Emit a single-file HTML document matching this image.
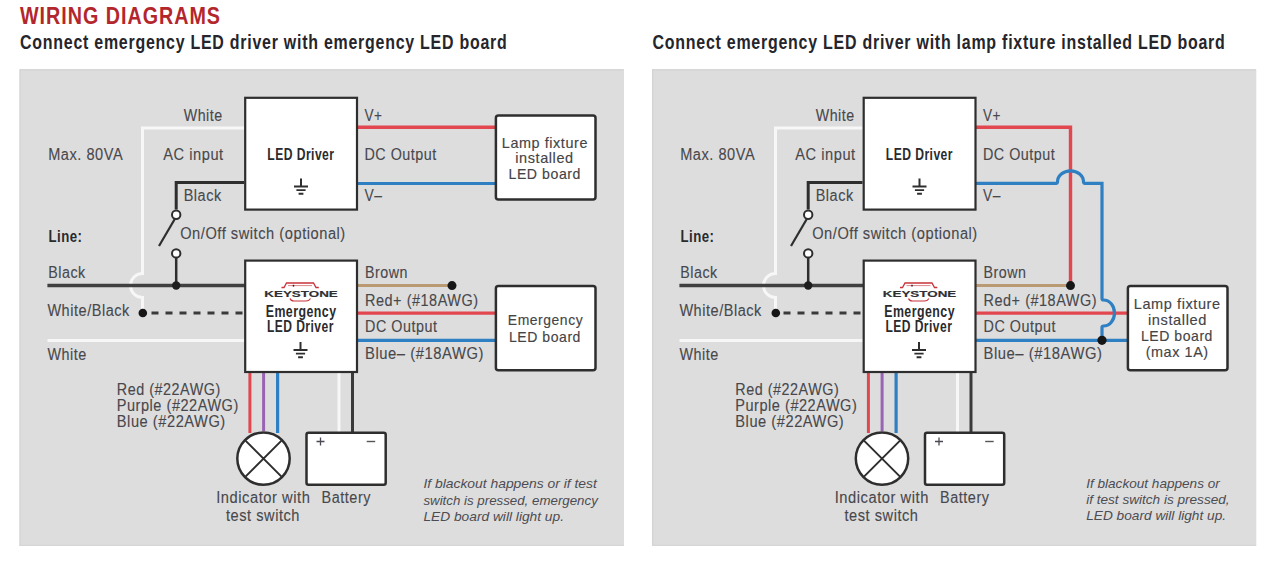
<!DOCTYPE html>
<html><head><meta charset="utf-8"><style>
html,body{margin:0;padding:0;background:#fff;width:1280px;height:564px;overflow:hidden}
svg{display:block}
</style></head><body>
<svg width="1280" height="564" viewBox="0 0 1280 564" font-family='"Liberation Sans", sans-serif'>
<rect width="1280" height="564" fill="#ffffff"/>
<text x="20" y="24.3" font-size="24" font-weight="bold" fill="#b3262c" textLength="201" lengthAdjust="spacingAndGlyphs" letter-spacing="1.2">WIRING DIAGRAMS</text>
<text x="20" y="48.5" font-size="21" font-weight="bold" fill="#25252b" textLength="487.5" lengthAdjust="spacingAndGlyphs" letter-spacing="1">Connect emergency LED driver with emergency LED board</text>
<text x="652.5" y="48.5" font-size="21" font-weight="bold" fill="#25252b" textLength="573" lengthAdjust="spacingAndGlyphs" letter-spacing="1">Connect emergency LED driver with lamp fixture installed LED board</text>
<g>
<rect x="19.5" y="69.2" width="604.5" height="476.8" fill="#dddddd"/>
<path d="M20.1,546 V69.8 H623.5" stroke="#d3d3d3" stroke-width="1.2" fill="none"/>
<path d="M19.5,545.4 H623.5" stroke="#d6d6d6" stroke-width="1.2" fill="none"/>
<path d="M244,128 H142.5 V273.5 A12,12 0 0 0 142.5,297.5 V313" stroke="#f7f7f7" stroke-width="3" fill="none"/>
<path d="M244,182.5 H176.2 V209.5" stroke="#2e2e2e" stroke-width="3" fill="none"/>
<circle cx="176.2" cy="214.7" r="4.2" fill="#fff" stroke="#2e2e2e" stroke-width="2"/>
<circle cx="176.2" cy="253.4" r="4.2" fill="#fff" stroke="#2e2e2e" stroke-width="2"/>
<path d="M174.8,219 L159,246" stroke="#2e2e2e" stroke-width="2.2" fill="none"/>
<path d="M176.2,257 V285.5" stroke="#2e2e2e" stroke-width="2.5" fill="none"/>
<path d="M47.4,285.5 H245" stroke="#404040" stroke-width="3.3" fill="none"/>
<path d="M151.5,313 H244" stroke="#3a3a3a" stroke-width="3" stroke-dasharray="7 7" fill="none"/>
<path d="M47.5,340.6 H245" stroke="#f7f7f7" stroke-width="3" fill="none"/>
<path d="M357,127.2 H496" stroke="#e2474f" stroke-width="3.4" fill="none"/>
<path d="M357,183.5 H496" stroke="#2f7fc3" stroke-width="3.2" fill="none"/>
<path d="M357,285.6 H452" stroke="#b99a72" stroke-width="3" fill="none"/>
<path d="M357,313.1 H496" stroke="#e2474f" stroke-width="3.4" fill="none"/>
<path d="M357,340.3 H496" stroke="#2f7fc3" stroke-width="3.2" fill="none"/>
<path d="M249.9,372 V433" stroke="#e2474f" stroke-width="3" fill="none"/>
<path d="M263.6,372 V431" stroke="#9a62b3" stroke-width="3" fill="none"/>
<path d="M277.6,372 V433" stroke="#2f7fc3" stroke-width="3.2" fill="none"/>
<path d="M339,372 V432" stroke="#f7f7f7" stroke-width="3" fill="none"/>
<path d="M352.5,372 V432" stroke="#3a3a3a" stroke-width="3" fill="none"/>
<rect x="245.2" y="97.8" width="111.8" height="111.8" fill="#fff" stroke="#2e2e2e" stroke-width="2.2"/>
<rect x="245.2" y="260.6" width="111.8" height="111.4" fill="#fff" stroke="#2e2e2e" stroke-width="2.2"/>
<rect x="495.9" y="115.4" width="99.6" height="84.2" rx="2.5" fill="#fff" stroke="#2e2e2e" stroke-width="2.5"/>
<rect x="495.9" y="286.1" width="99.6" height="84.2" rx="2.5" fill="#fff" stroke="#2e2e2e" stroke-width="2.5"/>
<circle cx="263.5" cy="458.6" r="26.2" fill="#fff" stroke="#2e2e2e" stroke-width="2.5"/>
<path d="M245,440.1 L282,477.1 M282,440.1 L245,477.1" stroke="#2e2e2e" stroke-width="2" fill="none"/>
<rect x="306.5" y="432.7" width="79.2" height="52" rx="2" fill="#fff" stroke="#2e2e2e" stroke-width="2.5"/>
<path d="M316.5,441.5 H324.5 M320.5,437.5 V445.5" stroke="#4a4a55" stroke-width="1.3" fill="none"/>
<path d="M366.7,441.5 H375.2" stroke="#555" stroke-width="1.4" fill="none"/>
<path d="M301,178.5 V186.5" stroke="#2e2e2e" stroke-width="2" fill="none"/>
<path d="M294,186.5 H308 M296.4,190.1 H305.6 M298.6,193.7 H303.4" stroke="#2e2e2e" stroke-width="1.9" fill="none"/>
<path d="M300.5,342 V350" stroke="#2e2e2e" stroke-width="2" fill="none"/>
<path d="M293.5,350 H307.5 M295.9,353.6 H305.1 M298.1,357.2 H302.9" stroke="#2e2e2e" stroke-width="1.9" fill="none"/>
<path d="M281.5,287.5 H284 L286.5,283 H313.5 L316,287.5 H318.8" stroke="#c8333b" stroke-width="1.3" fill="none"/>
<path d="M288,285.6 H312" stroke="#d87a7e" stroke-width="0.9" fill="none"/><path d="M293.5,284.8 V286.6" stroke="#222" stroke-width="1.4" fill="none"/>
<path d="M290,298.5 Q291,301 294,301 H306 Q309,301 310.5,298.5" stroke="#c8333b" stroke-width="1.2" fill="none"/>
<text x="264.3" y="297.3" font-size="8.5" font-weight="bold" fill="#303033" textLength="73.5" lengthAdjust="spacingAndGlyphs" letter-spacing="0" stroke="#303033" stroke-width="0.15">KEYSTONE</text>
<text x="183.7" y="121" font-size="16" fill="#48484c" stroke="#48484c" stroke-width="0.12" textLength="39" lengthAdjust="spacingAndGlyphs" letter-spacing="0.6">White</text>
<text x="48.2" y="159.7" font-size="16" fill="#48484c" stroke="#48484c" stroke-width="0.12" textLength="75" lengthAdjust="spacingAndGlyphs" letter-spacing="0.6">Max. 80VA</text>
<text x="163.3" y="159.8" font-size="16" fill="#48484c" stroke="#48484c" stroke-width="0.12" textLength="60.4" lengthAdjust="spacingAndGlyphs" letter-spacing="0.6">AC input</text>
<text x="267.3" y="159.8" font-size="16" font-weight="bold" fill="#2a2a2d" textLength="67.2" lengthAdjust="spacingAndGlyphs" letter-spacing="0.6">LED Driver</text>
<text x="364.4" y="120.5" font-size="16" fill="#48484c" stroke="#48484c" stroke-width="0.12" textLength="18" lengthAdjust="spacingAndGlyphs" letter-spacing="0.6">V+</text>
<text x="364.4" y="159.5" font-size="16" fill="#48484c" stroke="#48484c" stroke-width="0.12" textLength="72.5" lengthAdjust="spacingAndGlyphs" letter-spacing="0.6">DC Output</text>
<text x="364.4" y="201.4" font-size="16" fill="#48484c" stroke="#48484c" stroke-width="0.12" textLength="18" lengthAdjust="spacingAndGlyphs" letter-spacing="0.6">V–</text>
<text x="183.7" y="201.1" font-size="16" fill="#48484c" stroke="#48484c" stroke-width="0.12" textLength="38" lengthAdjust="spacingAndGlyphs" letter-spacing="0.6">Black</text>
<text x="48.5" y="242.4" font-size="16" font-weight="bold" fill="#2a2a2d" textLength="34" lengthAdjust="spacingAndGlyphs" letter-spacing="0.6">Line:</text>
<text x="180.2" y="239" font-size="16" fill="#48484c" stroke="#48484c" stroke-width="0.12" textLength="165.6" lengthAdjust="spacingAndGlyphs" letter-spacing="0.6">On/Off switch (optional)</text>
<text x="48.2" y="278.4" font-size="16" fill="#48484c" stroke="#48484c" stroke-width="0.12" textLength="37.5" lengthAdjust="spacingAndGlyphs" letter-spacing="0.6">Black</text>
<text x="47.4" y="316.3" font-size="16" fill="#48484c" stroke="#48484c" stroke-width="0.12" textLength="82.5" lengthAdjust="spacingAndGlyphs" letter-spacing="0.6">White/Black</text>
<text x="47.4" y="359.7" font-size="16" fill="#48484c" stroke="#48484c" stroke-width="0.12" textLength="39.4" lengthAdjust="spacingAndGlyphs" letter-spacing="0.6">White</text>
<text x="365" y="278.3" font-size="16" fill="#48484c" stroke="#48484c" stroke-width="0.12" textLength="43" lengthAdjust="spacingAndGlyphs" letter-spacing="0.6">Brown</text>
<text x="365" y="306" font-size="16" fill="#48484c" stroke="#48484c" stroke-width="0.12" textLength="113.6" lengthAdjust="spacingAndGlyphs" letter-spacing="0.6">Red+ (#18AWG)</text>
<text x="365" y="331.5" font-size="16" fill="#48484c" stroke="#48484c" stroke-width="0.12" textLength="72.5" lengthAdjust="spacingAndGlyphs" letter-spacing="0.6">DC Output</text>
<text x="365" y="358.7" font-size="16" fill="#48484c" stroke="#48484c" stroke-width="0.12" textLength="119" lengthAdjust="spacingAndGlyphs" letter-spacing="0.6">Blue– (#18AWG)</text>
<text x="265.7" y="316.9" font-size="16" font-weight="bold" fill="#2a2a2d" textLength="70.8" lengthAdjust="spacingAndGlyphs" letter-spacing="0.6">Emergency</text>
<text x="266.9" y="331.9" font-size="16" font-weight="bold" fill="#2a2a2d" textLength="66.9" lengthAdjust="spacingAndGlyphs" letter-spacing="0.6">LED Driver</text>
<text x="116.8" y="395.4" font-size="16" fill="#48484c" stroke="#48484c" stroke-width="0.12" textLength="104" lengthAdjust="spacingAndGlyphs" letter-spacing="0.6">Red (#22AWG)</text>
<text x="116.8" y="411.2" font-size="16" fill="#48484c" stroke="#48484c" stroke-width="0.12" textLength="122" lengthAdjust="spacingAndGlyphs" letter-spacing="0.6">Purple (#22AWG)</text>
<text x="116.8" y="427.3" font-size="16" fill="#48484c" stroke="#48484c" stroke-width="0.12" textLength="109" lengthAdjust="spacingAndGlyphs" letter-spacing="0.6">Blue (#22AWG)</text>
<text x="216.2" y="503" font-size="16" fill="#48484c" stroke="#48484c" stroke-width="0.12" textLength="94.2" lengthAdjust="spacingAndGlyphs" letter-spacing="0.6">Indicator with</text>
<text x="226" y="521" font-size="16" fill="#48484c" stroke="#48484c" stroke-width="0.12" textLength="74" lengthAdjust="spacingAndGlyphs" letter-spacing="0.6">test switch</text>
<text x="321.5" y="503" font-size="16" fill="#48484c" stroke="#48484c" stroke-width="0.12" textLength="49.5" lengthAdjust="spacingAndGlyphs" letter-spacing="0.6">Battery</text>
<circle cx="176.2" cy="285.5" r="4.2" fill="#1e1e1e"/>
<circle cx="142.8" cy="313" r="4.3" fill="#161616"/>
<circle cx="452" cy="285.6" r="4.5" fill="#161616"/>
<text x="501.8" y="147.9" font-size="15" fill="#444446" stroke="#444446" stroke-width="0.15" textLength="86.2" lengthAdjust="spacingAndGlyphs" letter-spacing="0.6">Lamp fixture</text>
<text x="515.3" y="163.1" font-size="15" fill="#444446" stroke="#444446" stroke-width="0.15" textLength="58.4" lengthAdjust="spacingAndGlyphs" letter-spacing="0.6">installed</text>
<text x="508.5" y="178.7" font-size="15" fill="#444446" stroke="#444446" stroke-width="0.15" textLength="72.5" lengthAdjust="spacingAndGlyphs" letter-spacing="0.6">LED board</text>
<text x="507.8" y="324.8" font-size="15" fill="#444446" stroke="#444446" stroke-width="0.15" textLength="75.4" lengthAdjust="spacingAndGlyphs" letter-spacing="0.6">Emergency</text>
<text x="508.9" y="341.5" font-size="15" fill="#444446" stroke="#444446" stroke-width="0.15" textLength="72.1" lengthAdjust="spacingAndGlyphs" letter-spacing="0.6">LED board</text>
<text x="423.4" y="488.1" font-size="13" font-style="italic" fill="#4c4c52" textLength="173.5" lengthAdjust="spacingAndGlyphs">If blackout happens or if test</text>
<text x="423.4" y="505" font-size="13" font-style="italic" fill="#4c4c52" textLength="174.4" lengthAdjust="spacingAndGlyphs">switch is pressed, emergency</text>
<text x="423.4" y="521" font-size="13" font-style="italic" fill="#4c4c52" textLength="140.6" lengthAdjust="spacingAndGlyphs">LED board will light up.</text>
</g>
<g>
<rect x="652" y="69.2" width="604.3" height="476.8" fill="#dddddd"/>
<path d="M652.6,546 V69.8 H1256" stroke="#d3d3d3" stroke-width="1.2" fill="none"/>
<path d="M652,545.4 H1256" stroke="#d6d6d6" stroke-width="1.2" fill="none"/>
<path d="M862.5,128 H775.5 V273.5 A12,12 0 0 0 775.5,297.5 V313" stroke="#f7f7f7" stroke-width="3" fill="none"/>
<path d="M862.5,182.5 H808.2 V209.5" stroke="#2e2e2e" stroke-width="3" fill="none"/>
<circle cx="808.2" cy="214.7" r="4.2" fill="#fff" stroke="#2e2e2e" stroke-width="2"/>
<circle cx="808.2" cy="253.4" r="4.2" fill="#fff" stroke="#2e2e2e" stroke-width="2"/>
<path d="M806.8,219 L791,246" stroke="#2e2e2e" stroke-width="2.2" fill="none"/>
<path d="M808.2,257 V285.5" stroke="#2e2e2e" stroke-width="2.5" fill="none"/>
<path d="M679.4,285.5 H863.5" stroke="#404040" stroke-width="3.3" fill="none"/>
<path d="M783.5,313 H862.5" stroke="#3a3a3a" stroke-width="3" stroke-dasharray="7 7" fill="none"/>
<path d="M679.5,340.6 H863.5" stroke="#f7f7f7" stroke-width="3" fill="none"/>
<path d="M975.5,127.2 H1070.5 V285.6" stroke="#e2474f" stroke-width="3.4" fill="none"/>
<path d="M975.5,285.6 H1070.5" stroke="#b99a72" stroke-width="3" fill="none"/>
<path d="M975.5,313.1 H1128" stroke="#e2474f" stroke-width="3.4" fill="none"/>
<path d="M975.5,340.3 H1128" stroke="#2f7fc3" stroke-width="3.2" fill="none"/>
<path d="M975.5,183.3 H1056.0 Q1057.5,183.3 1057.5,181.8 A13,11 0 0 1 1083.5,181.8 Q1083.5,183.3 1085.0,183.3 H1102.0 V298.5 Q1102.0,300 1103.5,300 A11,13 0 0 1 1103.5,326 Q1102.0,326 1102.0,327.5 V340.3" stroke="#2f7fc3" stroke-width="3.2" fill="none"/>
<path d="M868.4,372 V433" stroke="#e2474f" stroke-width="3" fill="none"/>
<path d="M882.1,372 V431" stroke="#9a62b3" stroke-width="3" fill="none"/>
<path d="M896.1,372 V433" stroke="#2f7fc3" stroke-width="3.2" fill="none"/>
<path d="M957.5,372 V432" stroke="#f7f7f7" stroke-width="3" fill="none"/>
<path d="M971.0,372 V432" stroke="#3a3a3a" stroke-width="3" fill="none"/>
<rect x="863.7" y="97.8" width="111.8" height="111.8" fill="#fff" stroke="#2e2e2e" stroke-width="2.2"/>
<rect x="863.7" y="260.6" width="111.8" height="111.4" fill="#fff" stroke="#2e2e2e" stroke-width="2.2"/>
<rect x="1127.9" y="286.1" width="99.6" height="84.2" rx="2.5" fill="#fff" stroke="#2e2e2e" stroke-width="2.5"/>
<circle cx="882.0" cy="458.6" r="26.2" fill="#fff" stroke="#2e2e2e" stroke-width="2.5"/>
<path d="M863.5,440.1 L900.5,477.1 M900.5,440.1 L863.5,477.1" stroke="#2e2e2e" stroke-width="2" fill="none"/>
<rect x="925.0" y="432.7" width="79.2" height="52" rx="2" fill="#fff" stroke="#2e2e2e" stroke-width="2.5"/>
<path d="M935.0,441.5 H943.0 M939.0,437.5 V445.5" stroke="#4a4a55" stroke-width="1.3" fill="none"/>
<path d="M985.2,441.5 H993.7" stroke="#555" stroke-width="1.4" fill="none"/>
<path d="M919.5,178.5 V186.5" stroke="#2e2e2e" stroke-width="2" fill="none"/>
<path d="M912.5,186.5 H926.5 M914.9,190.1 H924.1 M917.1,193.7 H921.9" stroke="#2e2e2e" stroke-width="1.9" fill="none"/>
<path d="M919.0,342 V350" stroke="#2e2e2e" stroke-width="2" fill="none"/>
<path d="M912.0,350 H926.0 M914.4,353.6 H923.6 M916.6,357.2 H921.4" stroke="#2e2e2e" stroke-width="1.9" fill="none"/>
<path d="M900.0,287.5 H902.5 L905.0,283 H932.0 L934.5,287.5 H937.3" stroke="#c8333b" stroke-width="1.3" fill="none"/>
<path d="M906.5,285.6 H930.5" stroke="#d87a7e" stroke-width="0.9" fill="none"/><path d="M912.0,284.8 V286.6" stroke="#222" stroke-width="1.4" fill="none"/>
<path d="M908.5,298.5 Q909.5,301 912.5,301 H924.5 Q927.5,301 929.0,298.5" stroke="#c8333b" stroke-width="1.2" fill="none"/>
<text x="882.8" y="297.3" font-size="8.5" font-weight="bold" fill="#303033" textLength="73.5" lengthAdjust="spacingAndGlyphs" letter-spacing="0" stroke="#303033" stroke-width="0.15">KEYSTONE</text>
<text x="815.7" y="121" font-size="16" fill="#48484c" stroke="#48484c" stroke-width="0.12" textLength="39" lengthAdjust="spacingAndGlyphs" letter-spacing="0.6">White</text>
<text x="680.2" y="159.7" font-size="16" fill="#48484c" stroke="#48484c" stroke-width="0.12" textLength="75" lengthAdjust="spacingAndGlyphs" letter-spacing="0.6">Max. 80VA</text>
<text x="795.3" y="159.8" font-size="16" fill="#48484c" stroke="#48484c" stroke-width="0.12" textLength="60.4" lengthAdjust="spacingAndGlyphs" letter-spacing="0.6">AC input</text>
<text x="885.8" y="159.8" font-size="16" font-weight="bold" fill="#2a2a2d" textLength="67.2" lengthAdjust="spacingAndGlyphs" letter-spacing="0.6">LED Driver</text>
<text x="982.9" y="120.5" font-size="16" fill="#48484c" stroke="#48484c" stroke-width="0.12" textLength="18" lengthAdjust="spacingAndGlyphs" letter-spacing="0.6">V+</text>
<text x="982.9" y="159.5" font-size="16" fill="#48484c" stroke="#48484c" stroke-width="0.12" textLength="72.5" lengthAdjust="spacingAndGlyphs" letter-spacing="0.6">DC Output</text>
<text x="982.9" y="201.4" font-size="16" fill="#48484c" stroke="#48484c" stroke-width="0.12" textLength="18" lengthAdjust="spacingAndGlyphs" letter-spacing="0.6">V–</text>
<text x="815.7" y="201.1" font-size="16" fill="#48484c" stroke="#48484c" stroke-width="0.12" textLength="38" lengthAdjust="spacingAndGlyphs" letter-spacing="0.6">Black</text>
<text x="680.5" y="242.4" font-size="16" font-weight="bold" fill="#2a2a2d" textLength="34" lengthAdjust="spacingAndGlyphs" letter-spacing="0.6">Line:</text>
<text x="812.2" y="239" font-size="16" fill="#48484c" stroke="#48484c" stroke-width="0.12" textLength="165.6" lengthAdjust="spacingAndGlyphs" letter-spacing="0.6">On/Off switch (optional)</text>
<text x="680.2" y="278.4" font-size="16" fill="#48484c" stroke="#48484c" stroke-width="0.12" textLength="37.5" lengthAdjust="spacingAndGlyphs" letter-spacing="0.6">Black</text>
<text x="679.4" y="316.3" font-size="16" fill="#48484c" stroke="#48484c" stroke-width="0.12" textLength="82.5" lengthAdjust="spacingAndGlyphs" letter-spacing="0.6">White/Black</text>
<text x="679.4" y="359.7" font-size="16" fill="#48484c" stroke="#48484c" stroke-width="0.12" textLength="39.4" lengthAdjust="spacingAndGlyphs" letter-spacing="0.6">White</text>
<text x="983.5" y="278.3" font-size="16" fill="#48484c" stroke="#48484c" stroke-width="0.12" textLength="43" lengthAdjust="spacingAndGlyphs" letter-spacing="0.6">Brown</text>
<text x="983.5" y="306" font-size="16" fill="#48484c" stroke="#48484c" stroke-width="0.12" textLength="113.6" lengthAdjust="spacingAndGlyphs" letter-spacing="0.6">Red+ (#18AWG)</text>
<text x="983.5" y="331.5" font-size="16" fill="#48484c" stroke="#48484c" stroke-width="0.12" textLength="72.5" lengthAdjust="spacingAndGlyphs" letter-spacing="0.6">DC Output</text>
<text x="983.5" y="358.7" font-size="16" fill="#48484c" stroke="#48484c" stroke-width="0.12" textLength="119" lengthAdjust="spacingAndGlyphs" letter-spacing="0.6">Blue– (#18AWG)</text>
<text x="884.2" y="316.9" font-size="16" font-weight="bold" fill="#2a2a2d" textLength="70.8" lengthAdjust="spacingAndGlyphs" letter-spacing="0.6">Emergency</text>
<text x="885.4" y="331.9" font-size="16" font-weight="bold" fill="#2a2a2d" textLength="66.9" lengthAdjust="spacingAndGlyphs" letter-spacing="0.6">LED Driver</text>
<text x="735.3" y="395.4" font-size="16" fill="#48484c" stroke="#48484c" stroke-width="0.12" textLength="104" lengthAdjust="spacingAndGlyphs" letter-spacing="0.6">Red (#22AWG)</text>
<text x="735.3" y="411.2" font-size="16" fill="#48484c" stroke="#48484c" stroke-width="0.12" textLength="122" lengthAdjust="spacingAndGlyphs" letter-spacing="0.6">Purple (#22AWG)</text>
<text x="735.3" y="427.3" font-size="16" fill="#48484c" stroke="#48484c" stroke-width="0.12" textLength="109" lengthAdjust="spacingAndGlyphs" letter-spacing="0.6">Blue (#22AWG)</text>
<text x="834.7" y="503" font-size="16" fill="#48484c" stroke="#48484c" stroke-width="0.12" textLength="94.2" lengthAdjust="spacingAndGlyphs" letter-spacing="0.6">Indicator with</text>
<text x="844.5" y="521" font-size="16" fill="#48484c" stroke="#48484c" stroke-width="0.12" textLength="74" lengthAdjust="spacingAndGlyphs" letter-spacing="0.6">test switch</text>
<text x="940.0" y="503" font-size="16" fill="#48484c" stroke="#48484c" stroke-width="0.12" textLength="49.5" lengthAdjust="spacingAndGlyphs" letter-spacing="0.6">Battery</text>
<circle cx="808.2" cy="285.5" r="4.2" fill="#1e1e1e"/>
<circle cx="775.8" cy="313" r="4.3" fill="#161616"/>
<circle cx="1070.5" cy="285.6" r="4.5" fill="#161616"/>
<circle cx="1102.0" cy="340.3" r="4.6" fill="#161616"/>
<text x="1133.8" y="309.3" font-size="15" fill="#444446" stroke="#444446" stroke-width="0.15" textLength="86.9" lengthAdjust="spacingAndGlyphs" letter-spacing="0.6">Lamp fixture</text>
<text x="1148" y="324.8" font-size="15" fill="#444446" stroke="#444446" stroke-width="0.15" textLength="58.9" lengthAdjust="spacingAndGlyphs" letter-spacing="0.6">installed</text>
<text x="1140.9" y="341.2" font-size="15" fill="#444446" stroke="#444446" stroke-width="0.15" textLength="72.1" lengthAdjust="spacingAndGlyphs" letter-spacing="0.6">LED board</text>
<text x="1145.7" y="356.5" font-size="15" fill="#444446" stroke="#444446" stroke-width="0.15" textLength="63" lengthAdjust="spacingAndGlyphs" letter-spacing="0.6">(max 1A)</text>
<text x="1086.2" y="487.8" font-size="13" font-style="italic" fill="#4c4c52" textLength="133.6" lengthAdjust="spacingAndGlyphs">If blackout happens or</text>
<text x="1086.2" y="504.4" font-size="13" font-style="italic" fill="#4c4c52" textLength="143.4" lengthAdjust="spacingAndGlyphs">if test switch is pressed,</text>
<text x="1086.2" y="519.9" font-size="13" font-style="italic" fill="#4c4c52" textLength="139.9" lengthAdjust="spacingAndGlyphs">LED board will light up.</text>
</g>
</svg>
</body></html>
